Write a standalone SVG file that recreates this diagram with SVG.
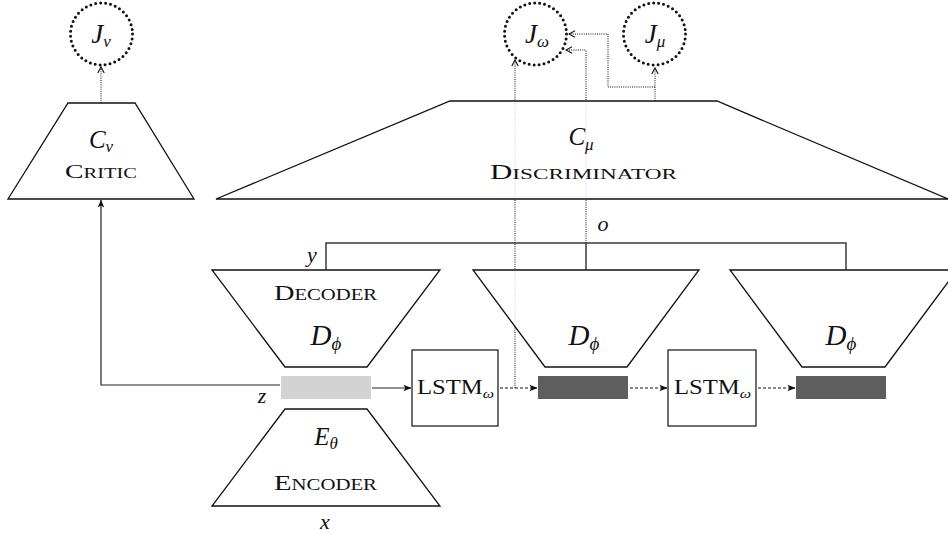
<svg xmlns="http://www.w3.org/2000/svg" width="948" height="535" viewBox="0 0 948 535">
<defs>
<style>
.edge{fill:#fff;fill-opacity:0.82;stroke:#111;stroke-width:1.3;stroke-linejoin:miter}
.box{fill:#fff;stroke:#222;stroke-width:1.3}
.cost{fill:none;stroke:#111;stroke-width:3;stroke-dasharray:0 5;stroke-linecap:round}
.solid{fill:none;stroke:#222;stroke-width:1.2}
.bus{fill:none;stroke:#3a3a3a;stroke-width:1.5}
.dash{fill:none;stroke:#111;stroke-width:1.2;stroke-dasharray:3 2}
.dot{fill:none;stroke:#111;stroke-width:1;stroke-dasharray:1 1.2}
.m{font-family:"Liberation Serif","DejaVu Serif",serif;font-style:italic;fill:#111}
.r{font-family:"Liberation Serif","DejaVu Serif",serif;fill:#111}
</style>
<marker id="fa" viewBox="0 0 10 10" refX="9.5" refY="5" markerWidth="8" markerHeight="8" orient="auto" markerUnits="userSpaceOnUse">
<path d="M0,1 L10,5 L0,9 L2.5,5 z" fill="#111"/>
</marker>
<marker id="oa" viewBox="0 0 10 10" refX="9" refY="5" markerWidth="8" markerHeight="8" orient="auto" markerUnits="userSpaceOnUse">
<path d="M1.5,1 L9,5 L1.5,9" fill="none" stroke="#111" stroke-width="1.4"/>
</marker>
</defs>

<g id="connectors">
<polyline class="solid" points="280,385 101,385 101,200" marker-end="url(#fa)"/>
<line class="solid" x1="372" y1="388" x2="411" y2="388" marker-end="url(#fa)"/>
<line class="dash" x1="500" y1="388" x2="537" y2="388" marker-end="url(#fa)"/>
<line class="dash" x1="630" y1="388" x2="667" y2="388" marker-end="url(#fa)"/>
<line class="dash" x1="758" y1="388" x2="795" y2="388" marker-end="url(#fa)"/>
<polyline class="bus" points="326,270 326,243 846,243 846,270"/>
<line class="bus" x1="586" y1="243" x2="586" y2="270"/>
<line class="dot" x1="515" y1="388" x2="515" y2="60" marker-end="url(#oa)"/>
<polyline class="dot" points="586,243 586,50 566,50" marker-end="url(#oa)"/>
<line class="dot" x1="655" y1="101" x2="655" y2="68" marker-end="url(#oa)"/>
<polyline class="dot" points="655,87 608,87 608,34 569,34" marker-end="url(#oa)"/>
<line class="dot" x1="101" y1="103" x2="101" y2="67" marker-end="url(#oa)"/>
</g>

<g id="J_nu">
<circle class="cost" cx="101.5" cy="34" r="31"/>
<text class="m" x="101" y="43" font-size="27" text-anchor="middle">J<tspan font-size="17" dy="4">ν</tspan></text>
</g>
<g id="J_omega">
<circle class="cost" cx="535.5" cy="34" r="31"/>
<text class="m" x="537" y="43" font-size="27" text-anchor="middle">J<tspan font-size="17" dy="4">ω</tspan></text>
</g>
<g id="J_mu">
<circle class="cost" cx="654.5" cy="34" r="31"/>
<text class="m" x="655" y="43" font-size="27" text-anchor="middle">J<tspan font-size="17" dy="4">μ</tspan></text>
</g>

<g id="critic">
<polygon class="edge" points="68,103 135,103 194,199 8,199"/>
<text class="m" x="101" y="148" font-size="25" text-anchor="middle">C<tspan font-size="17" dy="4">ν</tspan></text>
<text class="r" x="65" y="178" font-size="19" textLength="72" lengthAdjust="spacingAndGlyphs">C<tspan font-size="14">RITIC</tspan></text>
</g>

<g id="discriminator">
<polygon class="edge" points="450,101 717,101 948,199 216,199"/>
<text class="m" x="581" y="145" font-size="25" text-anchor="middle">C<tspan font-size="17" dy="5">μ</tspan></text>
<text class="r" x="490" y="179" font-size="20" textLength="187" lengthAdjust="spacingAndGlyphs">D<tspan font-size="15">ISCRIMINATOR</tspan></text>
</g>

<g id="decoder1">
<polygon class="edge" points="212,270 440,270 367,367 285,367"/>
<text class="r" x="274" y="300" font-size="22" textLength="103" lengthAdjust="spacingAndGlyphs">D<tspan font-size="16">ECODER</tspan></text>
<text class="m" x="326" y="345" font-size="29" text-anchor="middle">D<tspan font-size="19" dy="5">ϕ</tspan></text>
</g>
<g id="decoder2">
<polygon class="edge" points="473,270 699,270 627,367 545,367"/>
<text class="m" x="584" y="345" font-size="29" text-anchor="middle">D<tspan font-size="19" dy="5">ϕ</tspan></text>
</g>
<g id="decoder3">
<polygon class="edge" points="730,270 957,270 885,367 802,367"/>
<text class="m" x="841" y="345" font-size="29" text-anchor="middle">D<tspan font-size="19" dy="5">ϕ</tspan></text>
</g>

<g id="encoder">
<polygon class="edge" points="285,409 367,409 440,506 212,506"/>
<text class="m" x="326" y="445" font-size="25" text-anchor="middle">E<tspan font-size="17" dy="4">θ</tspan></text>
<text class="r" x="274" y="490" font-size="22" textLength="103" lengthAdjust="spacingAndGlyphs">E<tspan font-size="16">NCODER</tspan></text>
</g>

<g id="z">
<rect x="281" y="376" width="90" height="23" fill="#d3d3d3"/>
</g>
<g id="h1">
<rect x="538" y="376" width="90" height="23" fill="#5e5e5e"/>
</g>
<g id="h2">
<rect x="796" y="376" width="90" height="23" fill="#5e5e5e"/>
</g>

<g id="lstm1">
<rect class="box" x="412" y="350" width="86" height="76"/>
<text class="r" x="417" y="394" font-size="20" textLength="77" lengthAdjust="spacingAndGlyphs">LSTM<tspan class="m" font-size="13" dy="4">ω</tspan></text>
</g>
<g id="lstm2">
<rect class="box" x="668" y="350" width="88" height="76"/>
<text class="r" x="674" y="394" font-size="20" textLength="77" lengthAdjust="spacingAndGlyphs">LSTM<tspan class="m" font-size="13" dy="4">ω</tspan></text>
</g>

<g id="labels">
<text class="m" x="262" y="403" font-size="22" text-anchor="middle">z</text>
<text class="m" x="312" y="262" font-size="22" text-anchor="middle">y</text>
<text class="m" x="603" y="231" font-size="22" text-anchor="middle">o</text>
<text class="m" x="325" y="529" font-size="22" text-anchor="middle">x</text>
</g>
</svg>
